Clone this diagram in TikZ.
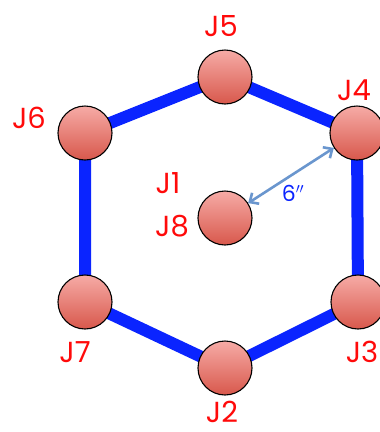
\documentclass[tikz,border=0pt]{standalone}
\usepackage{fontspec}
\setmainfont{Poppins}
\usetikzlibrary{arrows.meta,backgrounds}

\definecolor{jointred}{HTML}{FF0A0A}
\definecolor{ringblue}{HTML}{0A24FF}
\definecolor{armblue}{HTML}{6A96CE}
\definecolor{balltop}{HTML}{F6ABA6}
\definecolor{ballbot}{HTML}{D8584C}

\tikzset{
  joint/.style={circle, draw=black, line width=1.1pt, minimum size=54pt,
                inner sep=0pt, top color=balltop, bottom color=ballbot},
  jlabel/.style={text=jointred, inner sep=1pt, text height=0.7em, text depth=0pt,
                 font=\fontsize{29}{29}\selectfont},
  ring/.style={draw=ringblue, line width=12pt, line join=round},
}

\begin{document}
\begin{tikzpicture}[x=1pt, y=-1pt]
\useasboundingbox (0,0) rectangle (380,432);
\node[joint] (j5) at (225,77)  {};
\node[joint] (j4) at (357,133) {};
\node[joint] (j3) at (358,302) {};
\node[joint] (j2) at (225,368) {};
\node[joint] (j7) at (85,302)  {};
\node[joint] (j6) at (85,133)  {};
\node[joint] (j8) at (225,218) {};
% labels
\node[jlabel] (l5) at (221,33)  {J5};
\node[jlabel] (l4) at (354,97)  {J4};
\node[jlabel] (l3) at (362,359) {J3};
\node[jlabel] (l2) at (222,419) {J2};
\node[jlabel] (l7) at (75,359)  {J7};
\node[jlabel] (l6) at (29,125)  {J6};
\node[jlabel] (l1) at (168,190) {J1};
\node[jlabel] (l8) at (172,233) {J8};
\node[text=ringblue, font=\fontsize{22}{22}\selectfont] (dist) at (293,193) {6$''$};
\begin{scope}[on background layer]
  \draw[ring] (j5.center) -- (j4.center) -- (j3.center) -- (j2.center)
    -- (j7.center) -- (j6.center) -- cycle;
\end{scope}
\draw[armblue, line width=2.6pt, {Straight Barb[length=7pt,width=13pt]}-{Straight Barb[length=7pt,width=13pt]}]
  (j8) -- (j4);
\end{tikzpicture}
\end{document}
